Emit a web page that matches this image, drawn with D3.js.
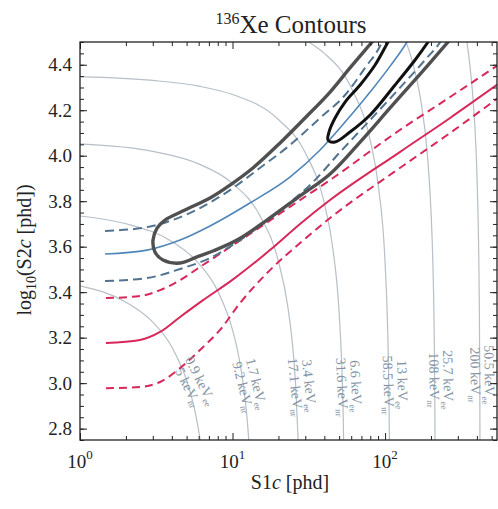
<!DOCTYPE html>
<html>
<head>
<meta charset="utf-8">
<script src="https://cdn.jsdelivr.net/npm/d3@7"></script>
<style>
  body { margin: 0; background: #fff; }
  svg text { font-family: "Liberation Serif", "Times New Roman", serif !important; fill: #222; }
</style>
</head>
<body>
<svg id="chart" width="498" height="509" font-family="Liberation Serif"></svg>
<script>
// values: [S1c (phd), log10 S2c (phd)]
const nrMedian = [[1.48,3.176],[2.47,3.190],[3.35,3.225],[4.53,3.291],[6.41,3.365],[9.93,3.453],[17.6,3.585],[27.7,3.700],[43.6,3.805],[125,4.016],[267,4.166],[551,4.315]];
const nrUpper = [[1.48,3.374],[2.47,3.383],[3.35,3.409],[4.53,3.453],[6.12,3.511],[13.0,3.656],[27.7,3.805],[43.6,3.893],[125,4.113],[267,4.258],[551,4.399]];
const nrLower = [[1.48,2.978],[2.47,2.983],[3.35,3.005],[4.53,3.066],[6.12,3.146],[8.28,3.234],[11.2,3.352],[17.6,3.497],[27.7,3.616],[43.6,3.726],[125,3.946],[267,4.100],[551,4.254]];

const erMedian = [[1.46,3.568],[2.75,3.585],[4.53,3.629],[7.12,3.691],[13.0,3.792],[23.8,3.906],[37.5,4.025],[54.7,4.148],[79.8,4.280],[108,4.394],[139,4.500],[150,4.54]];
const erUpper = [[1.46,3.669],[2.75,3.686],[3.89,3.713],[6.12,3.770],[9.63,3.849],[15.1,3.946],[23.8,4.047],[37.5,4.166],[54.7,4.267],[73.9,4.386],[95.5,4.500],[101,4.54]];
const erLower = [[1.46,3.449],[2.75,3.462],[4.53,3.502],[7.12,3.550],[11.2,3.629],[17.6,3.726],[21.4,3.770],[33.7,3.884],[50.7,4.016],[79.8,4.157],[125,4.298],[183,4.421],[230,4.500],[250,4.54]];

// 136Xe data contours
const xeOuter = [[98.5,4.562],[82.2,4.500],[58.9,4.386],[43.6,4.280],[29.9,4.166],[20.5,4.056],[13.6,3.946],[9.63,3.871],[7.12,3.814],[4.88,3.761],[3.61,3.717],[3.20,3.682],[3.01,3.629],[3.10,3.577],[3.50,3.541],[4.53,3.528],[5.85,3.555],[7.45,3.581],[10.7,3.629],[16.8,3.717],[27.7,3.823],[43.6,3.920],[68.6,4.060],[107.9,4.210],[169.8,4.359],[258.8,4.500],[310,4.562]];
const xeInner = [[116.3,4.553],[104.6,4.500],[86.0,4.399],[68.6,4.311],[54.7,4.236],[47.0,4.166],[42.9,4.104],[42.3,4.069],[47.0,4.060],[58.9,4.104],[79.8,4.179],[116.3,4.311],[157.3,4.421],[191.4,4.500],[212.8,4.548]];

// lines of constant energy
const energyKeVee = ['0.9', '1.7', '3.4', '6.6', '13', '25.7', '50.5'];
const energyKeVnr = ['5', '9.2', '17.1', '31.6', '58.5', '108', '200'];
const isoEnergy = [
  [[1,3.428],[2,3.356],[3,3.268],[4,3.159],[5,3.012],[5.5,2.915],[5.8,2.845],[6.1,2.760],[6.3,2.692]],
  [[1,3.735],[2,3.701],[4,3.623],[6,3.527],[8,3.405],[10,3.234],[11,3.115],[12,2.949],[12.5,2.834],[13,2.677]],
  [[1,4.052],[3,4.019],[6,3.964],[10,3.878],[15,3.740],[20,3.535],[23,3.340],[25,3.135],[26,2.978],[27,2.731]],
  [[1,4.348],[3,4.331],[6,4.306],[10,4.269],[20,4.159],[30,4.013],[40,3.790],[45,3.613],[50,3.310],[52,3.084],[53,2.904],[54,2.589]],
  [[30,4.509],[35,4.480],[40,4.450],[60,4.299],[80,4.066],[90,3.876],[100,3.531],[104,3.241],[106,2.961],[107,2.701]],
  [[130,4.540],[150,4.422],[170,4.259],[190,3.995],[200,3.760],[205,3.567],[210,3.211],[212,2.903],[213,2.587]],
  [[330,4.572],[360,4.397],[380,4.222],[400,3.925],[410,3.632],[415,3.347],[418,2.992],[419,2.755],[420,2.19]]
];

const xMajor = [1, 10, 100];
const xMinor = [2,3,4,5,6,7,8,9,20,30,40,50,60,70,80,90,200,300,400,500];
const yMajor = [2.8, 3.0, 3.2, 3.4, 3.6, 3.8, 4.0, 4.2, 4.4];
const yMinor = d3.range(0, 36).map(i => 2.75 + i * 0.05);

// label layout
const labelLogS2 = [2.983, 2.983, 2.983, 2.983, 2.992, 3.014, 3.036];
const labelAngle = [63, 76, 84, 87, 88, 89, 89];
const labelShift = [0, 0, 0, 0, 0, 0, -4];

const serif = '"Liberation Serif", "Times New Roman", serif';
const svg = d3.select('#chart');
const margin = { left: 80, top: 42, right: 1, bottom: 69 };
const w = 498 - margin.left - margin.right;
const h = 509 - margin.top - margin.bottom;

const x = d3.scaleLog().domain([1, 542]).range([0, w]);
const y = d3.scaleLinear().domain([2.75, 4.5]).range([h, 0]);

svg.append('rect').attr('width', 498).attr('height', 509).attr('fill', '#fff');
const g = svg.append('g').attr('transform', `translate(${margin.left},${margin.top})`);

svg.append('defs').append('clipPath').attr('id', 'plotClip')
  .append('rect').attr('width', w).attr('height', h);

const plot = g.append('g').attr('clip-path', 'url(#plotClip)');

const smooth = d3.line().x(d => x(d[0])).y(d => y(d[1])).curve(d3.curveMonotoneX);
const loop = d3.line().x(d => x(d[0])).y(d => y(d[1])).curve(d3.curveCatmullRom.alpha(0.5));

// iso-energy lines
plot.selectAll('.iso').data(isoEnergy).enter().append('path')
  .attr('class', 'iso')
  .attr('d', smooth)
  .attr('fill', 'none')
  .attr('stroke', '#b7bfc8')
  .attr('stroke-width', 1.2);

// NR band
const red = '#d8285a';
plot.append('path').attr('d', smooth(nrMedian)).attr('fill', 'none').attr('stroke', red).attr('stroke-width', 2);
[nrUpper, nrLower].forEach(band => {
  plot.append('path').attr('d', smooth(band)).attr('fill', 'none')
    .attr('stroke', red).attr('stroke-width', 2).attr('stroke-dasharray', '8,5');
});

// ER band
plot.append('path').attr('d', smooth(erMedian)).attr('fill', 'none').attr('stroke', '#4f86b9').attr('stroke-width', 1.6);
[erUpper, erLower].forEach(band => {
  plot.append('path').attr('d', smooth(band)).attr('fill', 'none')
    .attr('stroke', '#52738f').attr('stroke-width', 2).attr('stroke-dasharray', '9,5');
});

// Xe contours
plot.append('path').attr('d', loop(xeOuter)).attr('fill', 'none')
  .attr('stroke', '#505050').attr('stroke-width', 3.4).attr('stroke-linejoin', 'round');
plot.append('path').attr('d', loop(xeInner)).attr('fill', 'none')
  .attr('stroke', '#111').attr('stroke-width', 3).attr('stroke-linejoin', 'round');

// energy labels
isoEnergy.forEach((arc, i) => {
  const pts = arc.map(d => [x(d[0]), y(d[1])]);
  const py = y(labelLogS2[i]);
  let px = pts[pts.length - 1][0];
  for (let j = 0; j < pts.length - 1; j++) {
    if (pts[j][1] <= py && pts[j + 1][1] >= py) {
      const t = (py - pts[j][1]) / (pts[j + 1][1] - pts[j][1]);
      px = pts[j][0] + t * (pts[j + 1][0] - pts[j][0]);
      break;
    }
  }
  const lab = g.append('g').attr('transform', `translate(${px + labelShift[i]},${py}) rotate(${labelAngle[i]})`);
  const rows = [[energyKeVee[i], 'ee', -9], [energyKeVnr[i], 'nr', 5]];
  rows.forEach(([val, sub, dy]) => {
    const t = lab.append('text').attr('y', dy).attr('text-anchor', 'middle')
      .style('font-family', serif).style('font-size', '14px').style('fill', '#8493a4');
    t.append('tspan').text(`${val} keV`);
    t.append('tspan').attr('dy', 3).style('font-size', '9px').text(sub);
  });
});

// axes, ticks pointing inward
function styleAxis(sel) {
  sel.select('.domain').remove();
  sel.selectAll('line').attr('stroke', '#222');
}
g.append('g').attr('transform', `translate(0,${h})`)
  .call(d3.axisBottom(x).tickValues(xMajor).tickSizeInner(-7).tickSizeOuter(0).tickFormat(''))
  .call(styleAxis);
g.append('g').attr('transform', `translate(0,${h})`)
  .call(d3.axisBottom(x).tickValues(xMinor).tickSizeInner(-4).tickSizeOuter(0).tickFormat(''))
  .call(styleAxis);
g.append('g')
  .call(d3.axisTop(x).tickValues(xMajor).tickSizeInner(-7).tickSizeOuter(0).tickFormat(''))
  .call(styleAxis);
g.append('g')
  .call(d3.axisTop(x).tickValues(xMinor).tickSizeInner(-4).tickSizeOuter(0).tickFormat(''))
  .call(styleAxis);

const yAxis = g.append('g')
  .call(d3.axisLeft(y).tickValues(yMajor).tickSizeInner(-7).tickSizeOuter(0).tickPadding(8).tickFormat(d3.format('.1f')))
  .call(styleAxis);
yAxis.attr('font-family', serif).attr('font-size', null);
yAxis.selectAll('text').style('font-family', serif).style('font-size', '19px').style('fill', '#222');
g.append('g')
  .call(d3.axisLeft(y).tickValues(yMinor).tickSizeInner(-4).tickSizeOuter(0).tickFormat(''))
  .call(styleAxis);
g.append('g').attr('transform', `translate(${w},0)`)
  .call(d3.axisRight(y).tickValues(yMajor).tickSizeInner(-7).tickSizeOuter(0).tickFormat(''))
  .call(styleAxis);
g.append('g').attr('transform', `translate(${w},0)`)
  .call(d3.axisRight(y).tickValues(yMinor).tickSizeInner(-4).tickSizeOuter(0).tickFormat(''))
  .call(styleAxis);

// x tick labels 10^n
xMajor.forEach(v => {
  const t = g.append('text').attr('x', x(v)).attr('y', h + 28)
    .attr('text-anchor', 'middle').style('font-family', serif).style('font-size', '19px');
  t.append('tspan').text('10');
  t.append('tspan').attr('dy', -9).style('font-size', '13px').text(Math.round(Math.log10(v)));
});

// frame
g.append('rect').attr('width', w).attr('height', h)
  .attr('fill', 'none').attr('stroke', '#222').attr('stroke-width', 1.3);

// axis titles
const xt = svg.append('text').attr('x', 290).attr('y', 489)
  .attr('text-anchor', 'middle').style('font-family', serif).style('font-size', '20px');
xt.append('tspan').text('S1');
xt.append('tspan').style('font-style', 'italic').text('c');
xt.append('tspan').text(' [phd]');

const yt = svg.append('text').attr('transform', 'translate(31,250) rotate(-90)')
  .attr('text-anchor', 'middle').style('font-family', serif).style('font-size', '20px');
yt.append('tspan').text('log');
yt.append('tspan').attr('dy', 5).style('font-size', '14px').text('10');
yt.append('tspan').attr('dy', -5).text('(S2');
yt.append('tspan').style('font-style', 'italic').text('c');
yt.append('tspan').text(' [phd])');

// title
const title = svg.append('text').attr('x', 291).attr('y', 33)
  .attr('text-anchor', 'middle').style('font-family', serif).style('font-size', '25px');
title.append('tspan').attr('dy', -9).style('font-size', '16px').text('136');
title.append('tspan').attr('dy', 9).text('Xe Contours');
</script>
</body>
</html>
